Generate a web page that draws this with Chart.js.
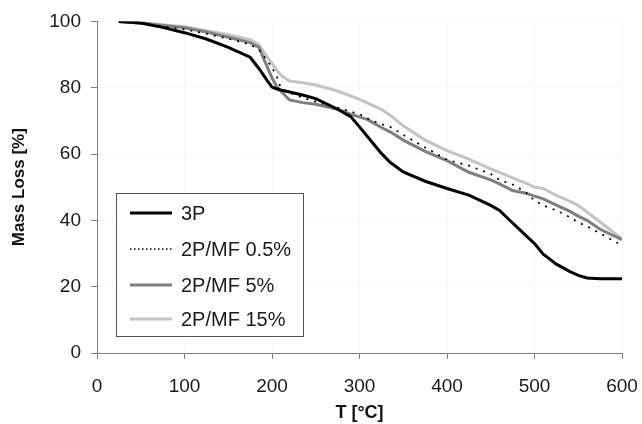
<!DOCTYPE html>
<html>
<head>
<meta charset="utf-8">
<script src="https://cdn.jsdelivr.net/npm/chart.js@4/dist/chart.umd.min.js"></script>
<style>
  html, body { margin: 0; padding: 0; background: #fff; }
  #wrap { width: 642px; height: 424px; }
</style>
</head>
<body>
<div id="wrap"><canvas id="tga"></canvas></div>
<script>
// temperatures [°C]
const temperatures = [25, 50, 75, 100, 125, 150, 175, 185, 195, 200, 205, 210, 220, 235, 250, 275, 290, 300, 310, 325, 335, 350, 375, 400, 425, 450, 460, 475, 490, 500, 510, 525, 540, 550, 560, 575, 600];

// mass loss [%]
const mass3P = [100, 99.5, 98.2, 96.6, 94.7, 92.2, 89.2, 85.8, 82, 80.2, 79.7, 79.3, 78.7, 77.8, 76.7, 73.5, 71.3, 68.2, 65, 60.2, 57.5, 54.6, 51.8, 49.6, 47.6, 44.5, 43, 39.2, 35.5, 33, 29.8, 26.8, 24.6, 23.4, 22.6, 22.4, 22.4];
const massMF05 = [100, 99.3, 98.5, 97.6, 96.3, 94.8, 93, 91.5, 88, 86, 83.7, 80, 78.5, 77, 75.8, 74, 72.8, 72, 70.6, 69, 68.2, 65.8, 62, 58.3, 56.5, 54, 52.2, 50.8, 48.5, 46, 44.5, 43, 41, 39.4, 38.2, 36.1, 32.4];
const massMF5 = [100, 99.5, 98.8, 98.1, 96.8, 95.2, 93.6, 92.2, 86, 83, 80.5, 79, 76.3, 75.5, 75, 73.5, 72, 71.2, 70.3, 68, 66.7, 64.2, 60.8, 58, 54.5, 52.2, 51, 49, 48.2, 47.3, 46.5, 44.6, 42.8, 41.3, 40, 37.3, 34.2];
const massMF15 = [100, 99.6, 99, 98.4, 97.2, 96, 94.5, 93, 89, 87.3, 85.5, 83.8, 82, 81.5, 80.8, 79, 77.5, 76.5, 75.3, 73.5, 71.7, 68.5, 64.2, 61, 58.5, 55.5, 54.5, 52.8, 51.2, 50, 49.6, 47.5, 45.8, 44.5, 42.5, 39.5, 34.4];

const seriesNames = ['3P', '2P/MF 0.5%', '2P/MF 5%', '2P/MF 15%'];

const toPoints = (values) => values.map((v, i) => ({ x: temperatures[i], y: v }));

const FONT = "'Liberation Sans', Arial, sans-serif";

// legend box drawn inside the plot, lower left
const boxLegend = {
    id: 'boxLegend',
    afterDraw(chart) {
        const ctx = chart.ctx;
        const left = 116, top = 193, width = 187, height = 143;
        ctx.save();
        ctx.fillStyle = '#fff';
        ctx.fillRect(left, top, width, height);
        ctx.strokeStyle = '#555';
        ctx.lineWidth = 1;
        ctx.strokeRect(left + 0.5, top + 0.5, width, height);
        const rows = [213, 249, 285, 319];
        chart.data.datasets.forEach((ds, i) => {
            const y = rows[i];
            ctx.strokeStyle = ds.borderColor;
            ctx.lineWidth = ds.borderWidth;
            ctx.setLineDash(ds.borderDash ? [1.5, 2.5] : []);
            ctx.beginPath();
            ctx.moveTo(130, y);
            ctx.lineTo(172, y);
            ctx.stroke();
            ctx.setLineDash([]);
            ctx.fillStyle = '#1a1a1a';
            ctx.font = '20px ' + FONT;
            ctx.textBaseline = 'middle';
            ctx.fillText(ds.label, 181, y + 1);
        });
        ctx.restore();
    }
};

const data = {
    datasets: [
        { label: seriesNames[0], data: toPoints(mass3P), borderColor: '#000', borderWidth: 3 },
        { label: seriesNames[1], data: toPoints(massMF05), borderColor: '#000', borderWidth: 1.7, borderDash: [2, 6] },
        { label: seriesNames[2], data: toPoints(massMF5), borderColor: '#7f7f7f', borderWidth: 3 },
        { label: seriesNames[3], data: toPoints(massMF15), borderColor: '#c4c4c4', borderWidth: 3 }
    ]
};

const config = {
    type: 'line',
    data: data,
    options: {
        responsive: true,
        maintainAspectRatio: false,
        animation: false,
        layout: { padding: { top: 13, right: 20, left: 0, bottom: 0 } },
        elements: { point: { radius: 0 }, line: { tension: 0, fill: false } },
        plugins: { legend: { display: false }, tooltip: { enabled: false } },
        scales: {
            x: {
                type: 'linear',
                min: 0,
                max: 600,
                ticks: { stepSize: 100, color: '#1a1a1a', font: { family: FONT, size: 19 }, padding: 16 },
                grid: { color: 'rgba(0,0,0,0.035)', tickColor: '#808080', tickLength: 6 },
                border: { color: '#808080', width: 1 },
                title: { display: true, text: 'T [°C]', color: '#111', font: { family: FONT, size: 18, weight: 'bold' }, padding: { top: 4, bottom: 0 } },
                afterFit: (scale) => { scale.height = 71; scale.paddingRight = 0; scale.paddingLeft = 0; }
            },
            y: {
                min: 0,
                max: 100,
                ticks: { stepSize: 20, color: '#1a1a1a', font: { family: FONT, size: 19 }, padding: 10 },
                grid: { color: 'rgba(0,0,0,0.035)', tickColor: '#808080', tickLength: 6 },
                border: { color: '#808080', width: 1 },
                title: { display: true, text: 'Mass Loss [%]', color: '#111', font: { family: FONT, size: 17, weight: 'bold' }, padding: { top: 9, bottom: 0 } },
                afterFit: (scale) => { scale.width = 97; }
            }
        }
    },
    plugins: [boxLegend]
};

new Chart(document.getElementById('tga'), config);
</script>
</body>
</html>
